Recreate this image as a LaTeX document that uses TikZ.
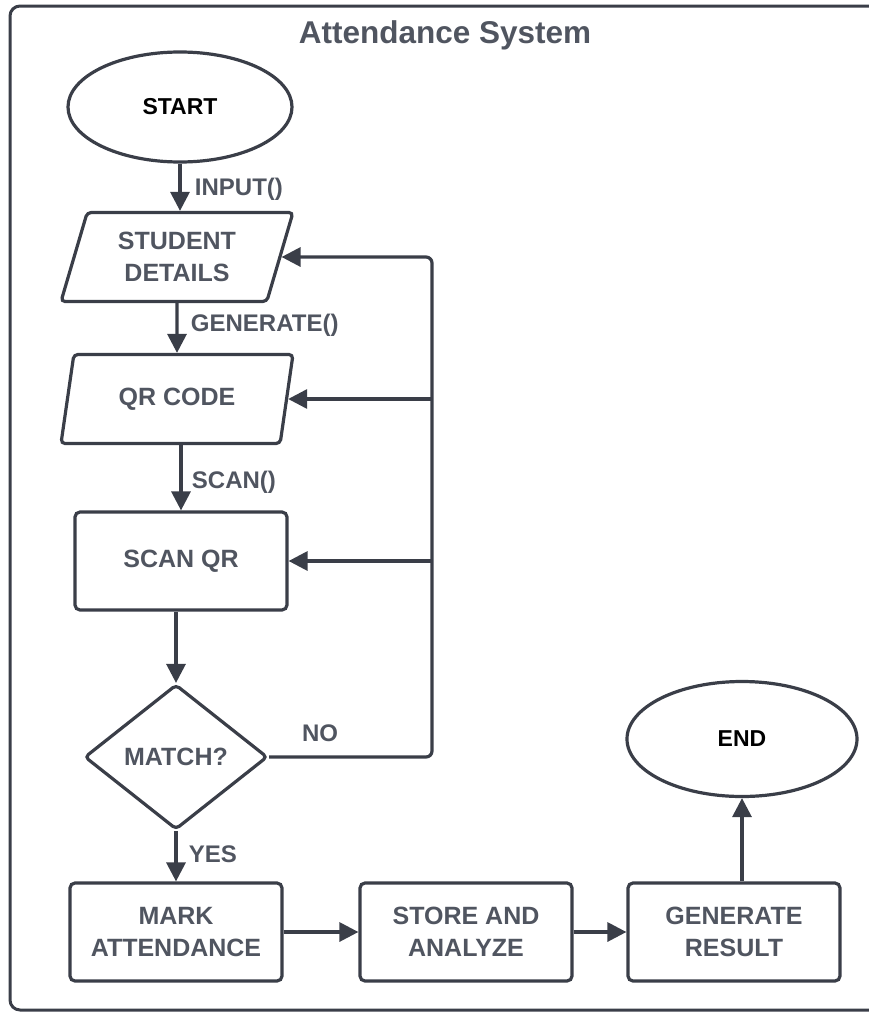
\documentclass[tikz,border=0pt]{standalone}
\usepackage{fontspec}
\setmainfont{Liberation Sans}
\usetikzlibrary{arrows.meta,shapes.geometric,calc}
\definecolor{ln}{RGB}{58,62,72}
\definecolor{tx}{RGB}{80,85,96}

\begin{document}
\begin{tikzpicture}[x=1pt,y=-1pt,
  font=\bfseries\fontsize{25}{32}\selectfont, color=ln, text=tx, line width=3.2pt,
  b/.style={draw,rounded corners=5pt,minimum width=212pt,minimum height=98pt,align=center,inner sep=2pt},
  pg/.style={draw,trapezium,trapezium left angle=64,trapezium right angle=116,trapezium stretches body,
    minimum width=232pt,minimum height=89pt,align=center,inner sep=2pt,rounded corners=4pt},
  dm/.style={draw,diamond,minimum width=183pt,minimum height=145pt,inner sep=0pt,rounded corners=4pt},
  ov/.style={draw,ellipse,inner sep=0pt,text=black},
  a/.style={-{Triangle[length=19pt,width=19pt]}},
  lb/.style={anchor=west,font=\bfseries\fontsize{24}{28}\selectfont}]
\clip (0,0) rectangle (869,1012);
\draw[line width=3pt,rounded corners=10pt] (10,6) rectangle (900,1010);
\node[font=\bfseries\fontsize{31.5}{36}\selectfont] (title) at (445,35) {Attendance System};
% main column
\node[ov,minimum width=224pt,minimum height=110pt,font=\bfseries\fontsize{23}{27}\selectfont] (start) at (180,107) {START};
\node[pg] (sdet) at (177,257) {STUDENT\\DETAILS};
\node[pg] (qr) at (177,399) {QR CODE};
\node[b] (scan) at (181,561) {SCAN QR};
\node[dm] (match) at (176,757) {MATCH?};
\node[b] (mark) at (176,932) {MARK\\ATTENDANCE};
\node[b] (store) at (466,932) {STORE AND\\ANALYZE};
\node[b] (res) at (734,932) {GENERATE\\RESULT};
\node[ov,minimum width=230pt,minimum height=115pt,font=\bfseries\fontsize{23}{27}\selectfont] (endn) at (742,739) {END};
\coordinate (bus) at (432,0);
\draw[a] (start.south -| 180,0) -- (sdet.north -| 180,0) node[lb,midway,xshift=10pt,yshift=-2pt] (l1) {INPUT()};
\draw[a] (sdet.south) -- (qr.north) node[lb,midway,xshift=9pt,yshift=3pt] (l2) {GENERATE()};
\draw[a] (qr.south -| scan.north) -- (scan.north) node[lb,midway,xshift=6pt,yshift=-5pt] (l3) {SCAN()};
\draw[a] (scan.south -| match.north) -- (match.north);
\draw[a] (match.south) -- (mark.north -| match.south) node[lb,midway,xshift=8pt,yshift=2pt] (l4) {YES};
\draw[a] (mark.east) -- (store.west);
\draw[a] (store.east) -- (res.west);
\draw[a] (endn.south |- res.north) -- (endn.south);
% loop back on NO
\draw[a,rounded corners=6pt] (match.east) -- (match.east -| bus) |- (sdet.east);
\draw[a] (qr.east -| bus) -- (qr.east);
\draw[a] (scan.east -| bus) -- (scan.east);
\node[lb,anchor=center] (l5) at (320,733) {NO};
\end{tikzpicture}
\end{document}
